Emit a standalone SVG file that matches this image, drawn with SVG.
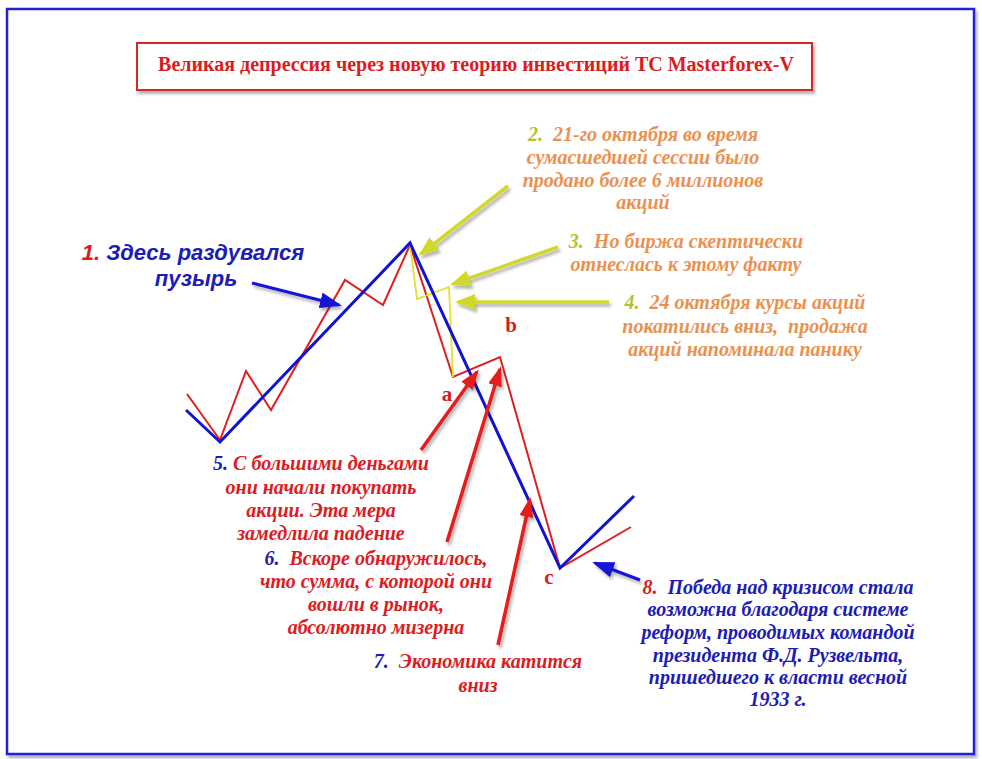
<svg xmlns="http://www.w3.org/2000/svg" width="982" height="759" viewBox="0 0 982 759">
<defs>
<filter id="sh" x="-20%" y="-20%" width="140%" height="140%">
<feDropShadow dx="2" dy="3" stdDeviation="1.5" flood-color="#000" flood-opacity="0.3"/>
</filter>
<marker id="ay" viewBox="0 0 20 16" refX="17" refY="8" markerWidth="20" markerHeight="16" markerUnits="userSpaceOnUse" orient="auto"><path d="M0,0 L20,8 L0,16 z" fill="#d2d82a"/></marker>
<marker id="ar" viewBox="0 0 20 14" refX="17" refY="7" markerWidth="20" markerHeight="14" markerUnits="userSpaceOnUse" orient="auto"><path d="M0,0 L20,7 L0,14 z" fill="#e81a1a"/></marker>
<marker id="ab" viewBox="0 0 22 16" refX="19" refY="8" markerWidth="22" markerHeight="16" markerUnits="userSpaceOnUse" orient="auto"><path d="M0,0 L22,8 L0,16 z" fill="#1414d2"/></marker>
</defs>
<style>
.ser{font-family:"Liberation Serif","Times New Roman",serif;font-weight:bold;font-style:italic;font-size:20px;text-anchor:middle}
.or{fill:#eb9150}
.rd{fill:#dc1c22}
.bl{fill:#1c1cb4}
.yg{fill:#b5c22e}
.lbl{font-family:"Liberation Serif","Times New Roman",serif;font-weight:bold;font-size:21px;fill:#d81c22;text-anchor:middle}
.ya{stroke:#d2d82a;stroke-width:3.5;fill:none;marker-end:url(#ay)}
.ra{stroke:#e81a1a;stroke-width:3.5;fill:none;marker-end:url(#ar)}
.ba{stroke:#1414d2;stroke-width:3;fill:none;marker-end:url(#ab)}
</style>
<rect width="982" height="759" fill="#fff"/>
<rect x="7" y="9" width="967" height="745" fill="#fff" stroke="#2424d8" stroke-width="2.5" filter="url(#sh)"/>

<g id="title">
<rect x="137" y="43" width="675" height="47" fill="#fff" stroke="#d82828" stroke-width="2" filter="url(#sh)"/>
<text x="476" y="71" font-family="'Liberation Serif','Times New Roman',serif" font-weight="bold" font-size="20" fill="#dc1c1c" text-anchor="middle">Великая депрессия через новую теорию инвестиций ТС Masterforex-V</text>
</g>

<g id="chart" fill="none" stroke-linejoin="miter">
<polyline points="187,394 220,440 246,371 271,410 345,280 383,305 410,245 453,377 500,357 560,568 631,527" stroke="#e01e1e" stroke-width="2"/>
<polyline points="410,245 417,299 449,287 453,377" stroke="#e2e02a" stroke-width="1.8"/>
<polyline points="186,410 220,442 410,243 560,568 634,496" stroke="#1212d2" stroke-width="3"/>
</g>

<g id="connectors" filter="url(#sh)">
<line class="ba" x1="252" y1="283" x2="339" y2="305"/>
<line class="ya" x1="508" y1="186" x2="421" y2="254"/>
<line class="ya" x1="558" y1="247" x2="453" y2="284"/>
<line class="ya" x1="609" y1="302" x2="458" y2="302"/>
<line class="ra" x1="421" y1="450" x2="477" y2="372"/>
<line class="ra" x1="447" y1="542" x2="500" y2="369"/>
<line class="ra" x1="498" y1="645" x2="530" y2="500"/>
<line class="ba" x1="640" y1="580" x2="595" y2="563"/>
</g>

<g id="label-a"><text class="lbl" x="447" y="401">a</text></g>
<g id="label-b"><text class="lbl" x="511" y="332">b</text></g>
<g id="label-c"><text class="lbl" x="549" y="584">c</text></g>

<g id="note1" font-family="'Liberation Sans',Arial,sans-serif" font-weight="bold" font-style="italic" font-size="22" fill="#1c1cb8" text-anchor="middle">
<text x="193" y="260"><tspan fill="#e01818">1.</tspan> Здесь раздувался</text>
<text x="196" y="286">пузырь</text>
</g>

<g id="note2" class="ser or">
<text x="643" y="141"><tspan class="yg">2.</tspan>&#160; 21-го октября во время</text>
<text x="643" y="164">сумасшедшей сессии было</text>
<text x="643" y="187">продано более 6 миллионов</text>
<text x="643" y="209">акций</text>
</g>

<g id="note3" class="ser or">
<text x="686" y="248"><tspan class="yg">3.</tspan>&#160; Но биржа скептически</text>
<text x="686" y="271">отнеслась к этому факту</text>
</g>

<g id="note4" class="ser or">
<text x="745" y="309"><tspan class="yg">4.</tspan>&#160; 24 октября курсы акций</text>
<text x="745" y="333">покатились вниз,&#160; продажа</text>
<text x="745" y="356">акций напоминала панику</text>
</g>

<g id="note5" class="ser rd">
<text x="321" y="470"><tspan class="bl">5.</tspan> С большими деньгами</text>
<text x="321" y="494">они начали покупать</text>
<text x="321" y="517">акции. Эта мера</text>
<text x="321" y="540">замедлила падение</text>
</g>

<g id="note6" class="ser rd">
<text x="376" y="565"><tspan class="bl">6.</tspan>&#160; Вскоре обнаружилось,</text>
<text x="376" y="588">что сумма, с которой они</text>
<text x="376" y="611">вошли в рынок,</text>
<text x="376" y="634">абсолютно мизерна</text>
</g>

<g id="note7" class="ser rd">
<text x="478" y="668"><tspan class="bl">7.</tspan>&#160; Экономика катится</text>
<text x="478" y="692">вниз</text>
</g>

<g id="note8" class="ser bl">
<text x="778" y="594"><tspan class="rd">8.</tspan>&#160; Победа над кризисом стала</text>
<text x="778" y="616">возможна благодаря системе</text>
<text x="778" y="639">реформ, проводимых командой</text>
<text x="778" y="662">президента Ф.Д. Рузвельта,</text>
<text x="778" y="684">пришедшего к власти весной</text>
<text x="778" y="706">1933 г.</text>
</g>
</svg>
